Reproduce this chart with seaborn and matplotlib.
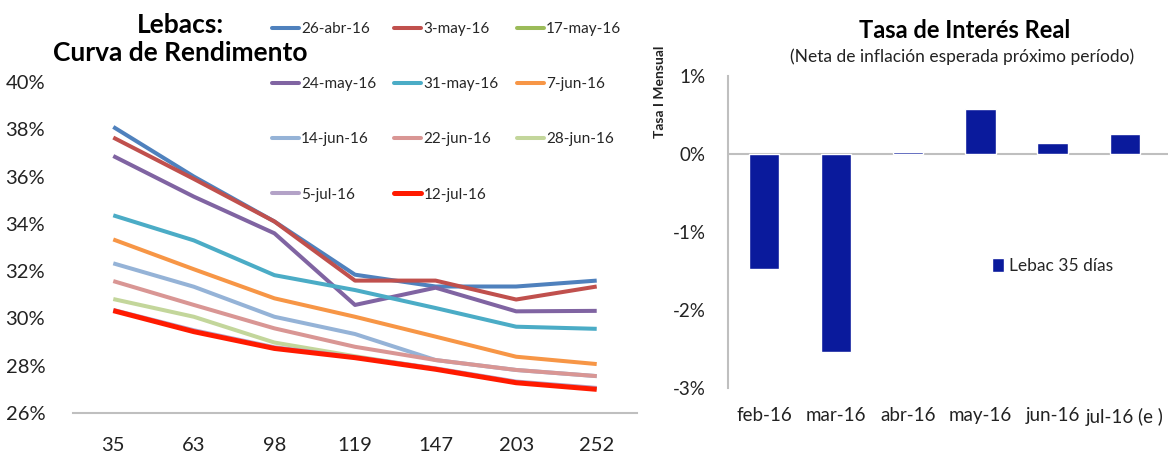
import numpy as np
import pandas as pd
import matplotlib
matplotlib.use("Agg")
import matplotlib.pyplot as plt
from matplotlib.lines import Line2D
from matplotlib.patches import Patch
from matplotlib.ticker import FuncFormatter
import seaborn as sns

# --- Curva de rendimiento Lebacs (TNA %, por plazo en días) ---
plazos = ["35", "63", "98", "119", "147", "203", "252"]
fechas = ["26-abr-16", "3-may-16", "17-may-16", "24-may-16", "31-may-16",
          "7-jun-16", "14-jun-16", "22-jun-16", "28-jun-16", "5-jul-16", "12-jul-16"]

r_26abr = [38.10, 36.00, 34.10, 31.85, 31.35, 31.35, 31.60]
r_03may = [37.65, 35.90, 34.10, 31.60, 31.60, 30.80, 31.35]
r_17may = [np.nan] * 7
r_24may = [36.87, 35.15, 33.60, 30.57, 31.30, 30.30, 30.32]
r_31may = [34.36, 33.30, 31.83, 31.20, 30.44, 29.65, 29.56]
r_07jun = [33.34, 32.08, 30.85, 30.07, 29.23, 28.38, 28.07]
r_14jun = [32.33, 31.34, 30.07, 29.34, 28.24, 27.82, 27.56]
r_22jun = [31.58, 30.57, 29.58, 28.80, 28.24, 27.82, 27.56]
r_28jun = [30.82, 30.07, 28.98, 28.40, 27.87, 27.30, 27.04]
r_05jul = [30.36, 29.50, 28.78, 28.37, 27.89, 27.33, 27.06]
r_12jul = [30.33, 29.44, 28.73, 28.34, 27.85, 27.28, 27.00]

colores = ["#4F81BD", "#C0504D", "#9BBB59", "#8064A2", "#4BACC6", "#F79646",
           "#95B3D7", "#D99694", "#C3D69B", "#B3A2C7", "#FF1A00"]

# --- Tasa de interés real mensual (Lebac 35 días, %) ---
meses = ["feb-16", "mar-16", "abr-16", "may-16", "jun-16", "jul-16 (e )"]
tasa_real = [-1.48, -2.54, 0.02, 0.58, 0.135, 0.26]

sns.set_theme(style="white")
plt.rcParams["font.family"] = ["Lato", "DejaVu Sans"]

fig = plt.figure(figsize=(11.7, 4.53), dpi=100)
fig.patch.set_facecolor("white")

# ---------------- Left panel: yield curves ----------------
ax1 = fig.add_axes([73 / 1170, 1 - 413 / 453, (637 - 73) / 1170, (413 - 82) / 453])
series = [r_26abr, r_03may, r_17may, r_24may, r_31may, r_07jun,
          r_14jun, r_22jun, r_28jun, r_05jul, r_12jul]
handles = []
for nombre, vals, col in zip(fechas, series, colores):
    lw = 3.6 if nombre == "12-jul-16" else 2.9
    vals = np.asarray(vals, dtype=float)
    if not np.all(np.isnan(vals)):
        sns.lineplot(x=plazos, y=vals, color=col, linewidth=lw, sort=False,
                     ax=ax1, solid_capstyle="butt")
    handles.append(Line2D([0], [0], color=col, linewidth=lw))

ax1.set_xlim(-0.5, 6.5)
ax1.set_ylim(26, 40)
ax1.set_yticks(np.arange(26, 41, 2))
ax1.yaxis.set_major_formatter(FuncFormatter(lambda v, p: f"{v:.0f}%"))
ax1.tick_params(axis="both", length=0, labelsize=14.5, colors="#222222")
ax1.tick_params(axis="y", pad=20)
ax1.tick_params(axis="x", pad=17)
for s in ["left", "right", "top"]:
    ax1.spines[s].set_visible(False)
ax1.spines["bottom"].set_color("#BFBFBF")
ax1.spines["bottom"].set_linewidth(1.5)
ax1.set_xlabel("")
ax1.set_ylabel("")

fig.text(180 / 1170, 1 - 39 / 453, "Lebacs:\nCurva de Rendimento", ha="center",
         va="center", fontsize=19, fontweight="bold", color="black",
         linespacing=1.2)

orden = [0, 3, 6, 9, 1, 4, 7, 10, 2, 5, 8]
fig.legend([handles[i] for i in orden], [fechas[i] for i in orden],
           ncol=3, loc="upper left", bbox_to_anchor=(272 / 1170, 1 - 22 / 453),
           frameon=False, fontsize=11, handlelength=1.75, handletextpad=0.15,
           columnspacing=1.2, labelspacing=2.7, borderpad=0, borderaxespad=0)

# ---------------- Right panel: real interest rate ----------------
ax2 = fig.add_axes([728 / 1170, 1 - 388 / 453, (1168 - 728) / 1170, (388 - 76) / 453])
sns.barplot(x=meses, y=tasa_real, color="#0A1A9C", width=0.42, saturation=1,
            ax=ax2)
ax2.set_xlim(-0.5, 5.6)
ax2.set_ylim(-3, 1)
ax2.set_yticks([-3, -2, -1, 0, 1])
ax2.yaxis.set_major_formatter(FuncFormatter(lambda v, p: f"{v:.0f}%"))
ax2.axhline(0, color="#BFBFBF", linewidth=1.5, zorder=0)
for s in ["right", "top", "bottom"]:
    ax2.spines[s].set_visible(False)
ax2.spines["left"].set_color("#BFBFBF")
ax2.spines["left"].set_linewidth(1.5)
ax2.tick_params(axis="both", length=0, labelsize=13.5, colors="#222222")
ax2.tick_params(axis="y", pad=16)
ax2.tick_params(axis="x", pad=14)
ax2.set_xlabel("")
ax2.set_ylabel("")

fig.text(660 / 1170, 1 - 92 / 453, "Tasa I Mensual", rotation=90, ha="center",
         va="center", fontsize=10, fontweight="bold", color="#222222")
fig.text(965 / 1170, 1 - 30 / 453, "Tasa de Interés Real", ha="center",
         va="center", fontsize=17, fontweight="bold", color="black")
fig.text(962 / 1170, 1 - 57 / 453, "(Neta de inflación esperada próximo período)",
         ha="center", va="center", fontsize=12.5, color="#222222")

ax2.legend([Patch(facecolor="#0A1A9C")], ["Lebac 35 días"],
           loc="center left", bbox_to_anchor=(992 / 1170, 1 - 266 / 453),
           bbox_transform=fig.transFigure, frameon=False, fontsize=12.5,
           handlelength=0.7, handleheight=0.85, handletextpad=0.3,
           borderpad=0, borderaxespad=0)

fig.savefig("out.png", dpi=100, facecolor="white")
